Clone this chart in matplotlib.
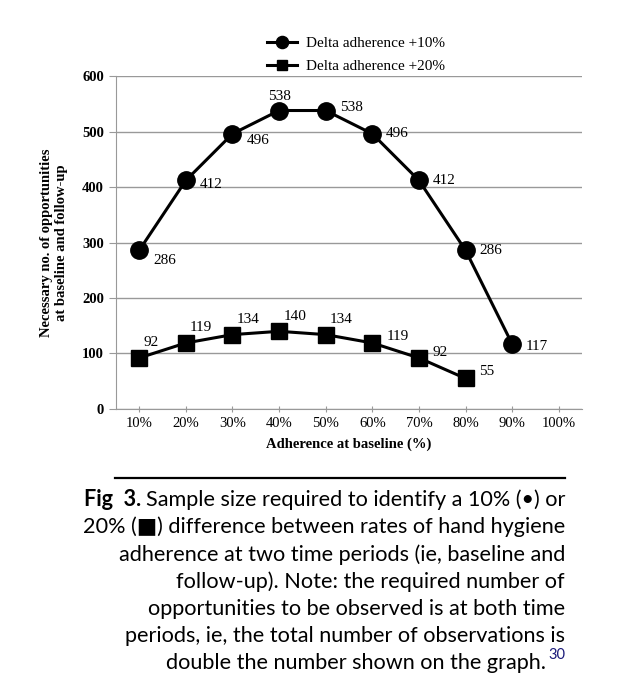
import numpy as np
import matplotlib
matplotlib.use("Agg")
import matplotlib.pyplot as plt

# data
categories = ['10%', '20%', '30%', '40%', '50%', '60%', '70%', '80%', '90%', '100%']
delta10 = [286, 412, 496, 538, 538, 496, 412, 286, 117]
delta20 = [92, 119, 134, 140, 134, 119, 92, 55]
yticks = [0, 100, 200, 300, 400, 500, 600]

caption_lines = [
    "Sample size required to identify a 10% (\u2022) or",
    "20% (\u25a0) difference between rates of hand hygiene",
    "adherence at two time periods (ie, baseline and",
    "follow-up). Note: the required number of",
    "opportunities to be observed is at both time",
    "periods, ie, the total number of observations is",
    "double the number shown on the graph.",
]

# label offsets in points (styling only)
off10 = [(10, -7), (10, -3), (10, -5), (0, 10), (10, 2), (10, 0), (10, 0), (10, 0), (10, -2)]
off20 = [(3, 11), (3, 11), (3, 11), (3, 11), (3, 11), (10, 5), (10, 4), (10, 5)]

serif = 'Liberation Serif'
plt.rcParams['font.family'] = serif

fig = plt.figure(figsize=(6.3, 6.92), dpi=100)
ax = fig.add_axes([0.184, 0.409, 0.740, 0.481])

x = np.arange(1, len(categories) + 1)
l1, = ax.plot(x[:len(delta10)], delta10, '-o', color='black', lw=2.2, ms=12.5,
              label='Delta adherence +10%', zorder=3)
l2, = ax.plot(x[:len(delta20)], delta20, '-s', color='black', lw=2.2, ms=11,
              label='Delta adherence +20%', zorder=3)

for i, (xi, v, o) in enumerate(zip(x, delta10, off10)):
    ax.annotate(str(v), (xi, v), xytext=o, textcoords='offset points',
                fontsize=11, va='center', ha='center' if i == 3 else 'left')
for xi, v, o in zip(x, delta20, off20):
    ax.annotate(str(v), (xi, v), xytext=o, textcoords='offset points',
                fontsize=11, va='center', ha='left')

ax.set_xlim(0.5, len(categories) + 0.5)
ax.set_ylim(0, 600)
ax.set_yticks(yticks)
ax.set_xticks(x)
ax.set_xticklabels(categories)
ax.yaxis.grid(True, color='#999999', lw=1)
ax.set_axisbelow(True)
for s in ['top', 'right']:
    ax.spines[s].set_visible(False)
for s in ['left', 'bottom']:
    ax.spines[s].set_color('#999999')
ax.tick_params(axis='both', colors='#999999', labelcolor='black', labelsize=10.5,
               length=4, direction='inout')
ax.tick_params(axis='y', length=5, direction='out')
for lbl in ax.get_yticklabels():
    lbl.set_fontweight('bold')
ax.set_xlabel('Adherence at baseline (%)', fontsize=10.5, fontweight='bold', labelpad=6)
ax.set_ylabel('Necessary no. of opportunities\nat baseline and follow-up',
              fontsize=10.5, fontweight='bold', labelpad=10)

fig.legend(handles=[l1, l2], loc='upper center', bbox_to_anchor=(0.565, 0.967),
           frameon=False, fontsize=11, handlelength=2.0, handletextpad=0.6,
           labelspacing=0.6, markerscale=0.7)

# caption
fig.add_artist(plt.Line2D([0.183, 0.897], [1 - 478 / 692] * 2, color='black', lw=1.6))
cap_font = ['Lato', 'DejaVu Sans']
cap_size = 15.6
right = 0.897
y0 = 1 - 500 / 692
step = 27.2 / 692
texts = []
for i, line in enumerate(caption_lines):
    t = fig.text(right, y0 - i * step, line, ha='right', va='center',
                 fontsize=cap_size, family=cap_font)
    texts.append(t)

fig.canvas.draw()
r = fig.canvas.get_renderer()
inv = fig.transFigure.inverted()
bb = texts[0].get_window_extent(r)
left = inv.transform((bb.x0, bb.y0))[0]
fig.text(left - 0.008, y0, 'Fig  3.', ha='right', va='center', fontsize=cap_size,
         family=cap_font, fontweight='bold')
# move the last line left to make room for the superscript
texts[-1].set_x(right - 0.03)
fig.canvas.draw()
bb = texts[-1].get_window_extent(r)
xr = inv.transform((bb.x1, bb.y1))
fig.text(xr[0] + 0.003, y0 - 6 * step + 0.012, '30', ha='left', va='center',
         fontsize=10.5, family=cap_font, color='#1a1a7a')

fig.savefig('out.png', dpi=100)
